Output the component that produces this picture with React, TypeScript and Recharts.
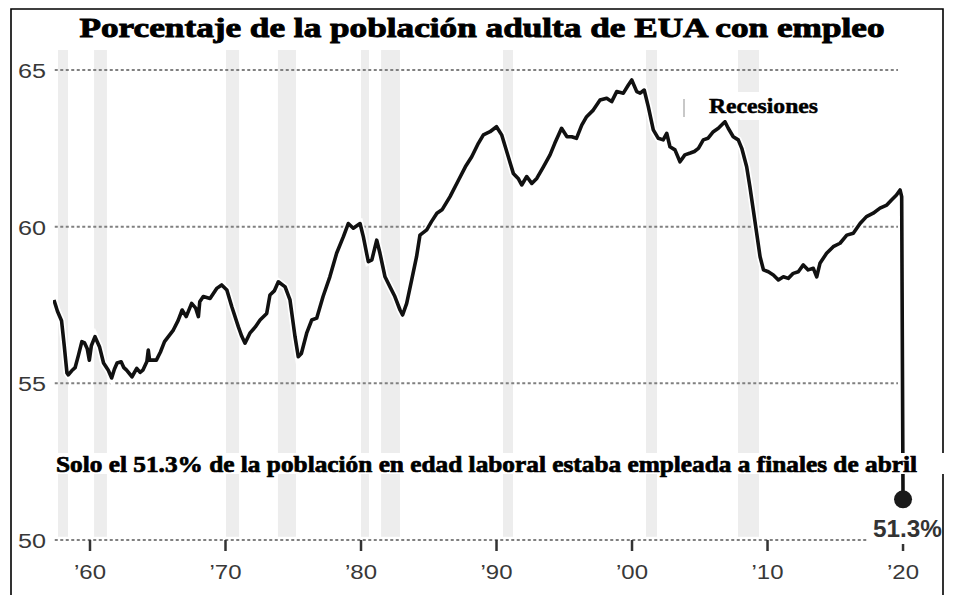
import {
  ComposedChart,
  Line,
  XAxis,
  YAxis,
  ReferenceArea,
  ReferenceLine,
  ReferenceDot,
} from 'recharts';

// Time as fractional years
const years = [
  1957.34, 1957.6, 1957.9, 1958.1, 1958.3, 1958.4, 1958.65, 1958.9, 1959.15, 1959.4,
  1959.6, 1959.8, 1959.95, 1960.1, 1960.37, 1960.7, 1961.0, 1961.35, 1961.6, 1961.8,
  1962.0, 1962.3, 1962.5, 1962.7, 1963.1, 1963.45, 1963.7, 1963.9, 1964.2, 1964.3,
  1964.4, 1964.9, 1965.2, 1965.5, 1966.15, 1966.5, 1966.8, 1967.1, 1967.5, 1967.8,
  1968.0, 1968.1, 1968.36, 1968.86, 1969.35, 1969.72, 1970.1, 1970.46, 1970.95, 1971.2,
  1971.44, 1971.8, 1972.2, 1972.55, 1973.04, 1973.28, 1973.6, 1973.9, 1974.4, 1974.76,
  1975.0, 1975.13, 1975.37, 1975.6, 1975.99, 1976.36, 1976.73, 1977.2, 1977.7, 1978.2,
  1978.7, 1979.06, 1979.43, 1979.93, 1980.17, 1980.54, 1980.8, 1981.16, 1981.4, 1981.77,
  1982.14, 1982.5, 1982.88, 1983.07, 1983.37, 1983.74, 1984.1, 1984.35, 1984.85, 1985.2,
  1985.6, 1986.0, 1986.57, 1987.2, 1987.7, 1988.17, 1988.66, 1989.03, 1989.52, 1990.0,
  1990.38, 1990.87, 1991.24, 1991.6, 1991.86, 1992.23, 1992.6, 1992.97, 1993.46, 1993.95,
  1994.3, 1994.8, 1995.2, 1995.55, 1995.9, 1996.29, 1996.65, 1997.14, 1997.64, 1998.13,
  1998.5, 1998.87, 1999.36, 1999.73, 1999.98, 2000.35, 2000.6, 2000.9, 2001.2, 2001.57,
  2001.94, 2002.3, 2002.56, 2002.8, 2003.17, 2003.54, 2003.9, 2004.3, 2004.6, 2004.9,
  2005.26, 2005.6, 2006.0, 2006.37, 2006.74, 2006.86, 2007.1, 2007.47, 2007.84, 2008.1,
  2008.46, 2008.7, 2008.95, 2009.2, 2009.45, 2009.7, 2010.06, 2010.43, 2010.8, 2011.17,
  2011.53, 2011.9, 2012.27, 2012.64, 2013.0, 2013.38, 2013.63, 2013.87, 2014.36, 2014.85,
  2015.35, 2015.85, 2016.33, 2016.83, 2017.3, 2017.8, 2018.3, 2018.8, 2019.15, 2019.5,
  2019.78, 2019.9, 2020.0,
];

// Employment-population ratio, percent
const ratio = [
  57.66, 57.3, 57.0, 56.2, 55.33, 55.27, 55.4, 55.5, 55.9, 56.33,
  56.29, 56.1, 55.74, 56.2, 56.49, 56.17, 55.65, 55.42, 55.17, 55.45,
  55.65, 55.69, 55.5, 55.42, 55.21, 55.48, 55.35, 55.42, 55.7, 56.06,
  55.74, 55.74, 56.0, 56.33, 56.7, 57.0, 57.34, 57.13, 57.55, 57.4,
  57.13, 57.6, 57.77, 57.71, 58.03, 58.14, 57.98, 57.45, 56.8, 56.5,
  56.28, 56.6, 56.8, 57.02, 57.23, 57.82, 57.95, 58.24, 58.08, 57.66,
  56.9, 56.49, 55.85, 55.95, 56.6, 57.02, 57.08, 57.77, 58.4, 59.15,
  59.68, 60.1, 59.95, 60.1, 59.68, 58.88, 58.94, 59.57, 59.15, 58.4,
  58.08, 57.77, 57.34, 57.18, 57.55, 58.3, 59.04, 59.73, 59.9, 60.16,
  60.43, 60.55, 60.96, 61.49, 61.91, 62.23, 62.66, 62.93, 63.03, 63.19,
  62.93, 62.23, 61.7, 61.54, 61.33, 61.6, 61.38, 61.54, 61.91, 62.29,
  62.66, 63.14, 62.87, 62.87, 62.82, 63.24, 63.51, 63.72, 64.04, 64.1,
  63.99, 64.31, 64.26, 64.52, 64.68, 64.31, 64.26, 64.36, 63.83, 63.09,
  62.82, 62.77, 62.98, 62.55, 62.45, 62.07, 62.29, 62.35, 62.4, 62.5,
  62.77, 62.82, 63.03, 63.14, 63.3, 63.35, 63.14, 62.87, 62.77, 62.5,
  61.91, 61.27, 60.53, 59.79, 59.04, 58.62, 58.56, 58.46, 58.3, 58.4,
  58.35, 58.51, 58.56, 58.78, 58.62, 58.67, 58.4, 58.83, 59.15, 59.36,
  59.47, 59.73, 59.79, 60.1, 60.32, 60.43, 60.59, 60.69, 60.85, 61.0,
  61.17, 60.96, 51.3,
];

const recessionStart = [1957.64, 1960.3, 1970.04, 1973.87, 1980.0, 1981.48, 1990.48, 2001.03, 2007.82];
const recessionEnd = [1958.38, 1961.25, 1971.0, 1975.2, 1980.59, 1982.88, 1991.22, 2001.84, 2009.37];

const xTicks = [1960, 1970, 1980, 1990, 2000, 2010, 2020];
const xTickLabels = ['’60', '’70', '’80', '’90', '’00', '’10', '’20'];
const yTicks = [50, 55, 60, 65];
const gridEnds = [2017.34, 2019.63, 2019.63, 2019.63];

const data = years.map((t, i) => ({ t, v: ratio[i] }));
const last = data[data.length - 1];

const XTick = (props: any) => {
  const { x, y, payload } = props;
  const idx = xTicks.indexOf(payload.value);
  return (
    <text
      x={x}
      y={y}
      dy={26}
      textAnchor="middle"
      fontSize={20}
      fontFamily="'Liberation Sans', Arial, sans-serif"
      fill="#383838"
      textLength={32}
      lengthAdjust="spacingAndGlyphs"
    >
      {xTickLabels[idx]}
    </text>
  );
};

const YTick = (props: any) => {
  const { y, payload } = props;
  return (
    <text
      x={46}
      y={y}
      dy={8}
      textAnchor="end"
      fontSize={20}
      fontFamily="'Liberation Sans', Arial, sans-serif"
      fill="#383838"
      textLength={28}
      lengthAdjust="spacingAndGlyphs"
    >
      {payload.value}
    </text>
  );
};

const serif = "'Liberation Serif', 'Times New Roman', serif";

export default function App() {
  return (
    <div style={{ position: 'absolute', left: 0, top: 0, width: 962, height: 595, background: '#fff' }}>
      <ComposedChart
        width={962}
        height={595}
        data={data}
        margin={{ top: 50, right: 32, bottom: 0, left: 0 }}
      >
        <XAxis
          dataKey="t"
          type="number"
          domain={[1957.27, 2021.99]}
          allowDataOverflow
          ticks={xTicks}
          axisLine={false}
          tickLine={{ stroke: '#333', strokeWidth: 2.5 }}
          tickSize={11}
          height={55}
          tick={<XTick />}
          interval={0}
        />
        <YAxis
          type="number"
          domain={[50, 65.638]}
          allowDataOverflow
          ticks={yTicks}
          axisLine={false}
          tickLine={false}
          width={53}
          tick={<YTick />}
          interval={0}
        />
        {recessionStart.map((s, i) => (
          <ReferenceArea
            key={`r${i}`}
            x1={s}
            x2={recessionEnd[i]}
            y1={50.1}
            y2={65.638}
            fill="#ededed"
            fillOpacity={1}
            stroke="none"
          />
        ))}
        {yTicks.map((v, i) => (
          <ReferenceLine
            key={`g${v}`}
            segment={[
              { x: 1957.4, y: v },
              { x: gridEnds[i], y: v },
            ]}
            stroke="#808080"
            strokeWidth={2}
            strokeDasharray="3 2.5"
          />
        ))}
        <Line
          dataKey="v"
          type="linear"
          stroke="#ffffff"
          strokeWidth={7}
          dot={false}
          isAnimationActive={false}
        />
        <Line
          dataKey="v"
          type="linear"
          stroke="#111"
          strokeWidth={3.6}
          strokeLinejoin="round"
          dot={false}
          isAnimationActive={false}
        />
        <ReferenceDot x={last.t} y={last.v} r={9} fill="#1a1a1a" stroke="none" />
      </ComposedChart>

      <svg
        width={962}
        height={595}
        style={{ position: 'absolute', left: 0, top: 0, pointerEvents: 'none' }}
      >
        <path d="M11,595 L11,9 L943,9 L943,595" fill="none" stroke="#000" strokeWidth={1.6} />
        <text
          x={482}
          y={37}
          textAnchor="middle"
          fontFamily={serif}
          fontWeight="bold"
          fontSize={27}
          textLength={805}
          lengthAdjust="spacingAndGlyphs"
          fill="#000"
          stroke="#000"
          strokeWidth={0.9}
        >
          Porcentaje de la población adulta de EUA con empleo
        </text>

        <rect x={683} y={99} width={2} height={18} fill="#c8c8c8" />
        <rect x={700} y={92} width={125} height={28} fill="#fff" />
        <text
          x={709}
          y={113}
          fontFamily={serif}
          fontWeight="bold"
          fontSize={22}
          textLength={109}
          lengthAdjust="spacingAndGlyphs"
          fill="#000"
          stroke="#000"
          strokeWidth={0.5}
        >
          Recesiones
        </text>

        <rect x={50} y={453} width={897} height={21} fill="#fff" />
        <text
          x={56}
          y={472}
          fontFamily={serif}
          fontWeight="bold"
          fontSize={23}
          textLength={861}
          lengthAdjust="spacingAndGlyphs"
          fill="#000"
          stroke="#000"
          strokeWidth={0.7}
        >
          Solo el 51.3% de la población en edad laboral estaba empleada a finales de abril
        </text>

        <rect x={867} y={514} width={74} height={30} fill="#fff" />
        <text
          x={942}
          y={537}
          textAnchor="end"
          fontFamily="'Liberation Sans', Arial, sans-serif"
          fontWeight="bold"
          fontSize={23}
          textLength={69}
          lengthAdjust="spacingAndGlyphs"
          fill="#333"
        >
          51.3%
        </text>
      </svg>
    </div>
  );
}
